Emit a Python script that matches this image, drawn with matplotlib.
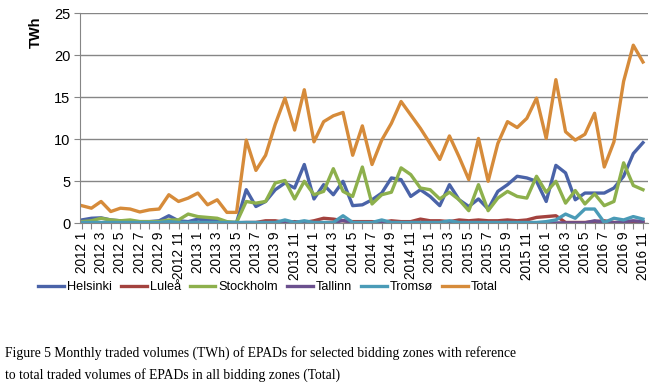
import matplotlib
matplotlib.use("Agg")
import matplotlib.pyplot as plt

# months 2012 1 .. 2016 11
months = [f"{y} {m}" for y in range(2012, 2017) for m in range(1, 13)][:59]

helsinki = [0.4, 0.6, 0.65, 0.4, 0.3, 0.2, 0.2, 0.2, 0.3, 0.9, 0.3, 0.2, 0.5, 0.4, 0.4, 0.1, 0.1,
            4.0, 2.0, 2.6, 4.0, 4.8, 4.2, 7.0, 2.9,
            4.6, 3.4, 5.0, 2.1, 2.2, 2.8, 3.6, 5.4, 5.2, 3.2, 4.0, 3.2, 2.1, 4.6, 2.8, 2.0, 2.9,
            1.7, 3.8, 4.6, 5.6, 5.4, 5.0, 2.6, 6.9, 6.0, 2.8, 3.6, 3.6, 3.6, 4.2, 5.6, 8.3, 9.6]
lulea = [0.05] * 17 + [
            0.1, 0.1, 0.3, 0.3, 0.1, 0.2, 0.1, 0.3, 0.6, 0.5, 0.3, 0.2, 0.2, 0.2, 0.1, 0.3,
            0.2, 0.2, 0.5, 0.3, 0.3, 0.2, 0.4, 0.3, 0.4, 0.3, 0.3, 0.4, 0.3, 0.4, 0.7, 0.8,
            0.9, 0.1, 0.1, 0.1, 0.2, 0.3, 0.1, 0.1, 0.1, 0.1]
stockholm = [0.2, 0.3, 0.6, 0.4, 0.3, 0.4, 0.2, 0.2, 0.2, 0.4, 0.4, 1.1, 0.8, 0.7, 0.6, 0.2, 0.1,
             2.6, 2.4, 2.6, 4.8, 5.1, 2.9, 5.0, 3.4,
             3.8, 6.5, 3.8, 3.2, 6.7, 2.3, 3.4, 3.7, 6.6, 5.8, 4.2, 4.0, 2.9, 3.7, 2.8, 1.5, 4.6,
             1.5, 3.0, 3.8, 3.2, 3.0, 5.6, 3.7, 5.0, 2.4, 3.9, 2.3, 3.5, 2.1, 2.6, 7.2, 4.5, 4.0]
tallinn = [0.05, 0.05, 0.05, 0.05, 0.05, 0.05, 0.05, 0.05, 0.05, 0.05, 0.05, 0.05, 0.05, 0.05,
           0.05, 0.05, 0.05, 0.05, 0.05, 0.05, 0.05, 0.05, 0.1, 0.05, 0.05, 0.05, 0.05, 0.35,
           0.05, 0.05, 0.05, 0.05, 0.05, 0.05, 0.05, 0.05, 0.05, 0.05, 0.05, 0.05, 0.05, 0.05,
           0.05, 0.05, 0.1, 0.05, 0.05, 0.05, 0.05, 0.05, 0.05, 0.05, 0.05, 0.3, 0.1, 0.05,
           0.2, 0.3, 0.2]
tromso = [0.1, 0.1, 0.1, 0.1, 0.1, 0.1, 0.1, 0.1, 0.1, 0.2, 0.1, 0.1, 0.1, 0.1, 0.1, 0.1, 0.1,
          0.1, 0.1, 0.1, 0.1, 0.4, 0.1, 0.3, 0.1, 0.1, 0.1, 0.9, 0.1, 0.1, 0.1, 0.4, 0.1, 0.1,
          0.1, 0.1, 0.1, 0.1, 0.3, 0.1, 0.1, 0.1, 0.1, 0.1, 0.1, 0.1, 0.1, 0.1, 0.2, 0.4,
          1.1, 0.6, 1.7, 1.7, 0.1, 0.6, 0.4, 0.8, 0.5]
total = [2.1, 1.8, 2.6, 1.4, 1.8, 1.7, 1.35, 1.6, 1.7, 3.4, 2.6, 3.0, 3.6, 2.2, 2.8, 1.3, 1.3,
         9.9, 6.3, 8.1, 11.8, 14.9, 11.1, 15.9, 9.7,
         12.1, 12.8, 13.2, 8.1, 11.6, 7.0, 9.9, 11.9, 14.5, 12.9, 11.3, 9.5, 7.6, 10.4, 7.9, 5.2,
         10.1, 5.0, 9.5, 12.1, 11.4, 12.5, 14.9, 10.1, 17.1, 10.9, 9.9, 10.6, 13.1, 6.7, 9.7,
         16.9, 21.2, 19.2]

series = [("Helsinki", helsinki, "#4a63a8"),
          ("Luleå", lulea, "#a3423e"),
          ("Stockholm", stockholm, "#8db04c"),
          ("Tallinn", tallinn, "#6b508e"),
          ("Tromsø", tromso, "#4a9bb7"),
          ("Total", total, "#d68b3a")]

plt.rcParams['font.family'] = ['Liberation Sans', 'DejaVu Sans']

fig = plt.figure(figsize=(6.58, 3.90), dpi=100)
ax = fig.add_axes([80 / 658, 1 - 223.3 / 390, 568 / 658, 210 / 390])

x = list(range(len(months)))
for name, vals, col in series:
    ax.plot(x, vals, color=col, lw=2.4, label=name, solid_joinstyle='round')

ax.set_xlim(-0.18, 58.52)
ax.set_ylim(0, 25)
ax.set_yticks([0, 5, 10, 15, 20, 25])
ax.yaxis.grid(True, color='#868686', lw=1)
ax.set_axisbelow(True)
ax.set_xticks(x, minor=False)
ax.set_xticklabels([m if i % 2 == 0 else "" for i, m in enumerate(months)],
                   rotation=90, fontsize=9.8)
ax.tick_params(axis='x', length=4, color='#868686', pad=2)
ax.tick_params(axis='y', length=4, color='#868686', labelsize=10.5, pad=3)
for s in ['top', 'right']:
    ax.spines[s].set_visible(False)
for s in ['left', 'bottom']:
    ax.spines[s].set_color('#868686')

fig.text(36 / 658, 1 - 32 / 390, "TWh", rotation=90, ha='center', va='center',
         fontsize=10.5, fontweight='bold')

leg = fig.legend(loc='center', bbox_to_anchor=(268 / 658, 1 - 287 / 390), ncol=6,
                 frameon=False, fontsize=9.2, handlelength=2.0, handletextpad=0.25,
                 columnspacing=0.7)

caption = ("Figure 5 Monthly traded volumes (TWh) of EPADs for selected bidding zones with reference\n"
           "to total traded volumes of EPADs in all bidding zones (Total)")
fig.text(5 / 658, 1 - 346 / 390, caption, ha='left', va='top', fontsize=9.8,
         family=['Liberation Serif', 'DejaVu Serif'], linespacing=1.75)

fig.savefig("out.png", dpi=100)
